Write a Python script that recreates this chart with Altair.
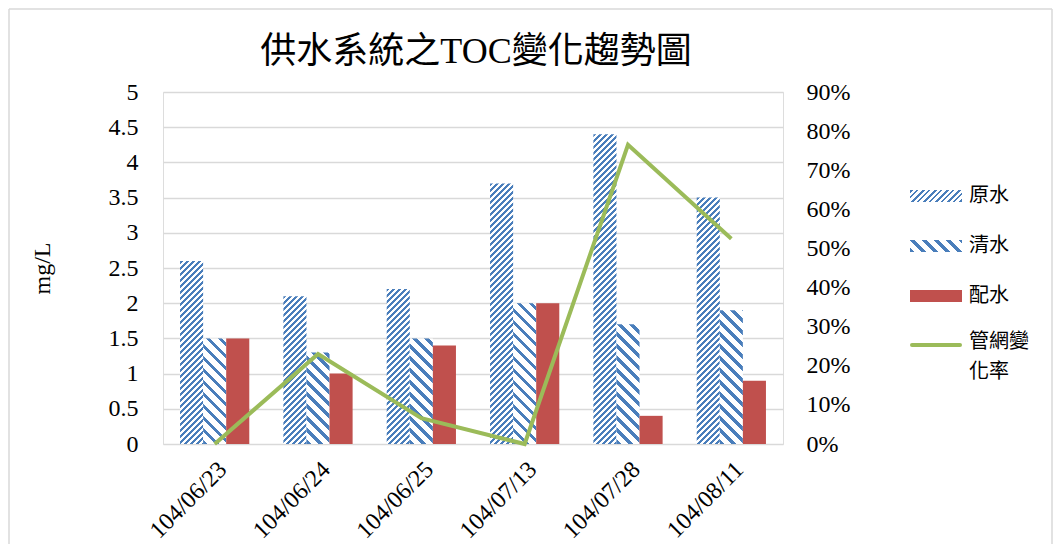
import altair as alt
import pandas as pd

# ---- data ----
title_text = "供水系統之TOC變化趨勢圖"
dates = ["104/06/23", "104/06/24", "104/06/25", "104/07/13", "104/07/28", "104/08/11"]
series = ["原水", "清水", "配水"]
raw_water = [2.6, 2.1, 2.2, 3.7, 4.4, 3.5]
clean_water = [1.5, 1.3, 1.5, 2.0, 1.7, 1.9]
dist_water = [1.5, 1.0, 1.4, 2.0, 0.4, 0.9]
line_name = "管網變化率"
change_rate = [0.0, 0.23, 0.066, 0.0, 0.765, 0.525]

# ---- style / layout constants ----
FONT = "'Liberation Serif', 'Noto Sans CJK TC', serif"
BLUE = "#4a7ebb"
RED = "#c0504d"
GREEN = "#9bbb59"
GRID = "#d9d9d9"
W, H = 620, 352
PAD_L, PAD_T, PAD_R, PAD_B = 155, 84, 270, 100
P_IN, P_OUT = 0.33, 0.165
YMAX = 5.0
FS = 24

step = W / (len(dates) - P_IN + 2 * P_OUT)
bar_w = step * (1 - P_IN) / len(series)


def hatch(w, h, period, frac, kind):
    """Linear gradient (objectBoundingBox) that draws 45 degree stripes."""
    span = w + h
    L = (w * w + h * h) / (w + h)
    stops = []
    s = -period
    while s < span + period:
        a, b, c = s, s + frac * period, s + period
        for o, col in ((a, BLUE), (b, BLUE), (b, "#ffffff"), (c, "#ffffff")):
            stops.append({"offset": round(min(max(o / span, 0.0), 1.0), 5), "color": col})
        s += period
    if kind == "fwd":   # "/" stripes
        g = {"x1": 0, "y1": 0, "x2": w / L, "y2": h / L}
    else:               # "\" stripes
        g = {"x1": 0, "y1": 1, "x2": w / L, "y2": 1 - h / L}
    g.update({"gradient": "linear", "stops": stops})
    return g


HATCH = {"原水": (6.0, 0.5, "fwd"), "清水": (12.0, 0.38, "back")}

X = alt.X("date:N", sort=dates,
          scale=alt.Scale(domain=dates, paddingInner=P_IN, paddingOuter=P_OUT),
          axis=alt.Axis(title=None, labelAngle=-45, labelFontSize=FS, labelFont=FONT,
                        labelColor="#000", domain=False, ticks=False, labelPadding=13,
                        grid=False))
XO = alt.XOffset("series:N", scale=alt.Scale(domain=series, paddingInner=0, paddingOuter=0))
YL = alt.Y("value:Q",
           scale=alt.Scale(domain=[0, YMAX], nice=False),
           axis=alt.Axis(title="mg/L", values=[i * 0.5 for i in range(11)], format="~g",
                         labelFontSize=FS, labelFont=FONT, labelColor="#000",
                         titleFont=FONT, titleFontSize=FS, titleFontWeight="normal",
                         titleColor="#000", titlePadding=54,
                         domain=False, ticks=False, labelPadding=25,
                         grid=True, gridColor=GRID, gridWidth=1.4))

bar_layers = []
vals = {"原水": raw_water, "清水": clean_water, "配水": dist_water}
for name in ["原水", "清水"]:
    period, frac, kind = HATCH[name]
    for i, d in enumerate(dates):
        v = vals[name][i]
        h = v / YMAX * H
        df = pd.DataFrame({"date": [d], "series": [name], "value": [v]})
        bar_layers.append(
            alt.Chart(df).mark_bar(fill=hatch(bar_w, h, period, frac, kind),
                                   strokeWidth=0)
            .encode(x=X, xOffset=XO, y=YL)
        )
df_dist = pd.DataFrame({"date": dates, "series": "配水", "value": dist_water})
bar_layers.append(alt.Chart(df_dist).mark_bar(color=RED).encode(x=X, xOffset=XO, y=YL))
bars = alt.layer(*bar_layers)

df_line = pd.DataFrame({"date": dates, "rate": change_rate})
line = alt.Chart(df_line).mark_line(color=GREEN, strokeWidth=4).encode(
    x=X,
    y=alt.Y("rate:Q", scale=alt.Scale(domain=[0, 0.9], nice=False),
            axis=alt.Axis(title=None, orient="right", values=[i / 10 for i in range(10)],
                          format=".0%", labelFontSize=FS, labelFont=FONT, labelColor="#000",
                          domain=False, ticks=False, labelPadding=23, grid=False)),
)

main = alt.layer(bars, line).resolve_scale(y="independent")

one = pd.DataFrame({"k": [0]})

# ---- title as text ----
title = alt.Chart(one).mark_text(font=FONT, fontSize=36, color="#000",
                                 align="center", baseline="middle").encode(
    x=alt.value(313), y=alt.value(-40), text=alt.value(title_text))

# ---- manual legend (hatched swatches) ----
LX, LW, LSH = 747, 52, 12
LY0, LDY = 104, 50
legend_layers = []
for j, name in enumerate(series):
    yc = LY0 + j * LDY
    if name in HATCH:
        period, frac, kind = HATCH[name]
        fill = hatch(LW, LSH, period, frac, kind)
    else:
        fill = RED
    legend_layers.append(
        alt.Chart(one).mark_rect(fill=fill, strokeWidth=0).encode(
            x=alt.value(LX), x2=alt.value(LX + LW),
            y=alt.value(yc - LSH / 2), y2=alt.value(yc + LSH / 2))
    )
    legend_layers.append(
        alt.Chart(one).mark_text(align="left", baseline="middle", font=FONT,
                                 fontSize=20, color="#000").encode(
            x=alt.value(LX + LW + 7), y=alt.value(yc), text=alt.value(name))
    )
yl = LY0 + 3 * LDY - 1
legend_layers.append(
    alt.Chart(one).mark_rule(color=GREEN, strokeWidth=4, strokeCap="round").encode(
        x=alt.value(LX + 2), x2=alt.value(LX + LW - 2), y=alt.value(yl))
)
legend_layers.append(
    alt.Chart(one).mark_text(align="left", baseline="top", font=FONT, fontSize=20,
                             color="#000", lineHeight=30).encode(
        x=alt.value(LX + LW + 7), y=alt.value(yl - 13),
        text=alt.value([line_name[:3], line_name[3:]]))
)

# ---- outer frame ----
frame = [
    alt.Chart(one).mark_rule(color=GRID, strokeWidth=1.5).encode(
        x=alt.value(-154), x2=alt.value(889), y=alt.value(-83)),
    alt.Chart(one).mark_rule(color=GRID, strokeWidth=1.5).encode(
        x=alt.value(-154), y=alt.value(-83), y2=alt.value(460)),
    alt.Chart(one).mark_rule(color=GRID, strokeWidth=1.5).encode(
        x=alt.value(889), y=alt.value(-83), y2=alt.value(460)),
]

chart = alt.layer(main, title, *legend_layers, *frame).properties(
    width=W, height=H,
    padding={"left": PAD_L, "top": PAD_T, "right": PAD_R, "bottom": PAD_B},
    autosize=alt.AutoSizeParams(type="none"),
).configure_view(stroke=None).configure(background="white")

chart.save("out.html", embed_options={"renderer": "svg", "actions": False})
